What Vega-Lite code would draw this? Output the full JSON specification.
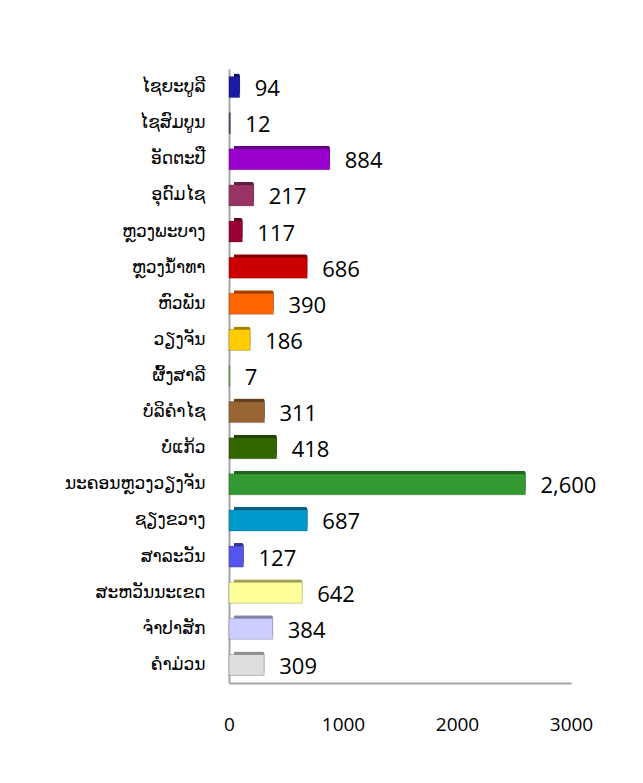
{
  "$schema": "https://vega.github.io/schema/vega-lite/v6.json",
  "width": 342,
  "height": 614,
  "autosize": {"type": "none"},
  "padding": {"left": 229, "top": 69, "right": 72, "bottom": 100},
  "background": "white",
  "config": {"view": {"stroke": null}},
  "data": {
    "values": [
      {"province": "ໄຊຍະບູລີ", "value": 94},
      {"province": "ໄຊສົມບູນ", "value": 12},
      {"province": "ອັດຕະປື", "value": 884},
      {"province": "ອຸດົມໄຊ", "value": 217},
      {"province": "ຫຼວງພະບາງ", "value": 117},
      {"province": "ຫຼວງນ້ຳທາ", "value": 686},
      {"province": "ຫົວພັນ", "value": 390},
      {"province": "ວຽງຈັນ", "value": 186},
      {"province": "ຜົ້ງສາລີ", "value": 7},
      {"province": "ບໍລິຄຳໄຊ", "value": 311},
      {"province": "ບໍ່ແກ້ວ", "value": 418},
      {"province": "ນະຄອນຫຼວງວຽງຈັນ", "value": 2600},
      {"province": "ຊຽງຂວາງ", "value": 687},
      {"province": "ສາລະວັນ", "value": 127},
      {"province": "ສະຫວັນນະເຂດ", "value": 642},
      {"province": "ຈຳປາສັກ", "value": 384},
      {"province": "ຄຳມ່ວນ", "value": 309}
    ]
  },
  "encoding": {
    "y": {
      "field": "province",
      "type": "nominal",
      "sort": null,
      "title": null,
      "axis": {
        "labelFont": "DejaVu Sans",
        "labelFontSize": 17,
        "labelColor": "#000000",
        "labelPadding": 24,
        "ticks": false,
        "domain": true,
        "domainColor": "#a6a6a6",
        "domainWidth": 2
      }
    },
    "x": {
      "field": "value",
      "type": "quantitative",
      "scale": {"domain": [0, 3000], "nice": false},
      "title": null,
      "axis": {
        "values": [0, 1000, 2000, 3000],
        "format": "d",
        "grid": false,
        "ticks": false,
        "domain": true,
        "domainColor": "#a6a6a6",
        "domainWidth": 2,
        "labelPadding": 32,
        "labelFont": "Open Sans",
        "labelFontSize": 19,
        "labelColor": "#000000",
        "labelFlush": false
      }
    },
    "color": {
      "field": "province",
      "type": "nominal",
      "legend": null,
      "scale": {
        "domain": ["ໄຊຍະບູລີ", "ໄຊສົມບູນ", "ອັດຕະປື", "ອຸດົມໄຊ", "ຫຼວງພະບາງ", "ຫຼວງນ້ຳທາ", "ຫົວພັນ", "ວຽງຈັນ", "ຜົ້ງສາລີ", "ບໍລິຄຳໄຊ", "ບໍ່ແກ້ວ", "ນະຄອນຫຼວງວຽງຈັນ", "ຊຽງຂວາງ", "ສາລະວັນ", "ສະຫວັນນະເຂດ", "ຈຳປາສັກ", "ຄຳມ່ວນ"],
        "range": ["#1a1aa6", "#4d4d80", "#9900cc", "#993366", "#990033", "#cc0000", "#ff6600", "#ffcc00", "#66cc33", "#996633", "#336600", "#339933", "#0099cc", "#5555ee", "#ffff99", "#ccccff", "#dddddd"]
      }
    }
  },
  "layer": [
    {
      "mark": {"type": "bar", "size": 21, "xOffset": 5, "yOffset": -3, "cornerRadiusEnd": 2}
    },
    {
      "mark": {"type": "bar", "size": 21, "xOffset": 5, "yOffset": -3, "cornerRadiusEnd": 2, "opacity": 0.35},
      "encoding": {"color": {"value": "#000000"}}
    },
    {
      "mark": {"type": "bar", "size": 21, "strokeWidth": 0.8, "strokeOpacity": 0.25, "stroke": "#000000"}
    },
    {
      "mark": {"type": "text", "align": "left", "baseline": "middle", "dx": 15, "dy": 2, "font": "Open Sans", "fontSize": 22, "color": "#000000"},
      "encoding": {"text": {"field": "value", "type": "quantitative", "format": ","}, "color": {"value": "#000000"}}
    }
  ]
}
